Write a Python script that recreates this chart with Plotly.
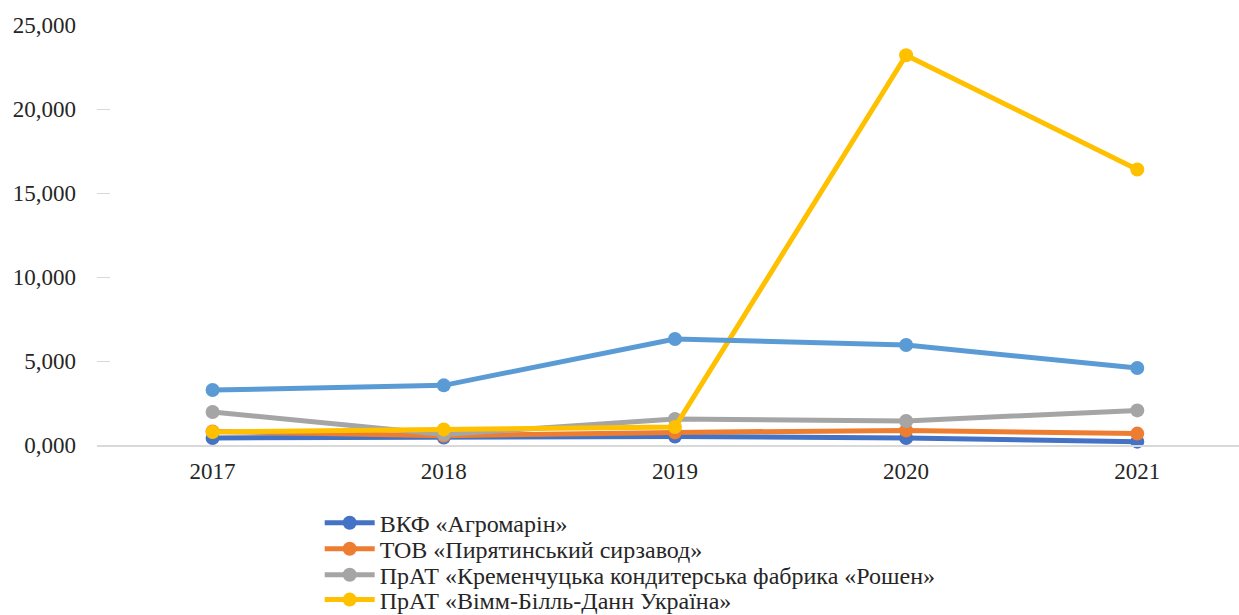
import plotly.graph_objects as go

years = ["2017", "2018", "2019", "2020", "2021"]

names = [
    "ВКФ «Агромарін»",
    "ТОВ «Пирятинський сирзавод»",
    "ПрАТ «Кременчуцька кондитерська фабрика «Рошен»",
    "ПрАТ «Вімм-Білль-Данн Україна»",
    "Інша компанія",
]

agromarin = [0.42, 0.45, 0.50, 0.42, 0.20]
pyriatyn = [0.80, 0.55, 0.75, 0.87, 0.68]
roshen = [1.96, 0.62, 1.55, 1.43, 2.06]
wbd = [0.77, 0.93, 1.07, 23.2, 16.4]
other = [3.27, 3.55, 6.31, 5.95, 4.58]

series = [agromarin, pyriatyn, roshen, wbd, other]
colors = ["#4472C4", "#ED7D31", "#A5A5A5", "#FFC000", "#5B9BD5"]
legend_ids = ["legend", "legend2", "legend3", "legend4", None]

tick_vals = [0, 5, 10, 15, 20, 25]
tick_text = ["0,000", "5,000", "10,000", "15,000", "20,000", "25,000"]

FONT = "Liberation Serif, Times New Roman, serif"
FSIZE = 23
LSIZE = 24

fig = go.Figure()
for name, vals, col, lg in zip(names, series, colors, legend_ids):
    kw = dict(legend=lg) if lg else dict(showlegend=False)
    fig.add_trace(go.Scatter(
        x=years, y=vals, name=name, mode="lines+markers",
        line=dict(color=col, width=5),
        marker=dict(color=col, size=14),
        cliponaxis=False, **kw,
    ))

legend_rows_y = [-0.186, -0.248, -0.31, -0.369]


def legend_cfg(y):
    return dict(
        x=0.195, y=y, xanchor="left", yanchor="middle",
        orientation="v", font=dict(family=FONT, size=LSIZE, color="#262626"),
        itemwidth=50, bgcolor="rgba(0,0,0,0)",
    )


fig.update_layout(
    width=1239, height=615,
    margin=dict(l=97, r=0, t=25, b=170, autoexpand=False),
    paper_bgcolor="white", plot_bgcolor="white",
    font=dict(family=FONT, size=FSIZE, color="#262626"),
    showlegend=True,
    legend=legend_cfg(legend_rows_y[0]),
    legend2=legend_cfg(legend_rows_y[1]),
    legend3=legend_cfg(legend_rows_y[2]),
    legend4=legend_cfg(legend_rows_y[3]),
    xaxis=dict(
        type="category", range=[-0.5, 4.44], automargin=False,
        showgrid=False, showline=True, linecolor="#d9d9d9", linewidth=2,
        ticks="", zeroline=False, ticklabelstandoff=4,
        tickfont=dict(family=FONT, size=FSIZE, color="#262626"),
    ),
    yaxis=dict(
        range=[0, 25], tickvals=tick_vals, ticktext=tick_text, automargin=False,
        showgrid=False, zeroline=False, showline=False,
        ticks="inside", ticklen=13, tickwidth=1, tickcolor="#d9d9d9",
        ticklabelstandoff=20,
        tickfont=dict(family=FONT, size=FSIZE, color="#262626"),
    ),
)

fig.write_html(
    "out.html",
    config={"displayModeBar": False},
    post_script="document.body.style.margin='0px';document.body.style.overflow='hidden';",
)
